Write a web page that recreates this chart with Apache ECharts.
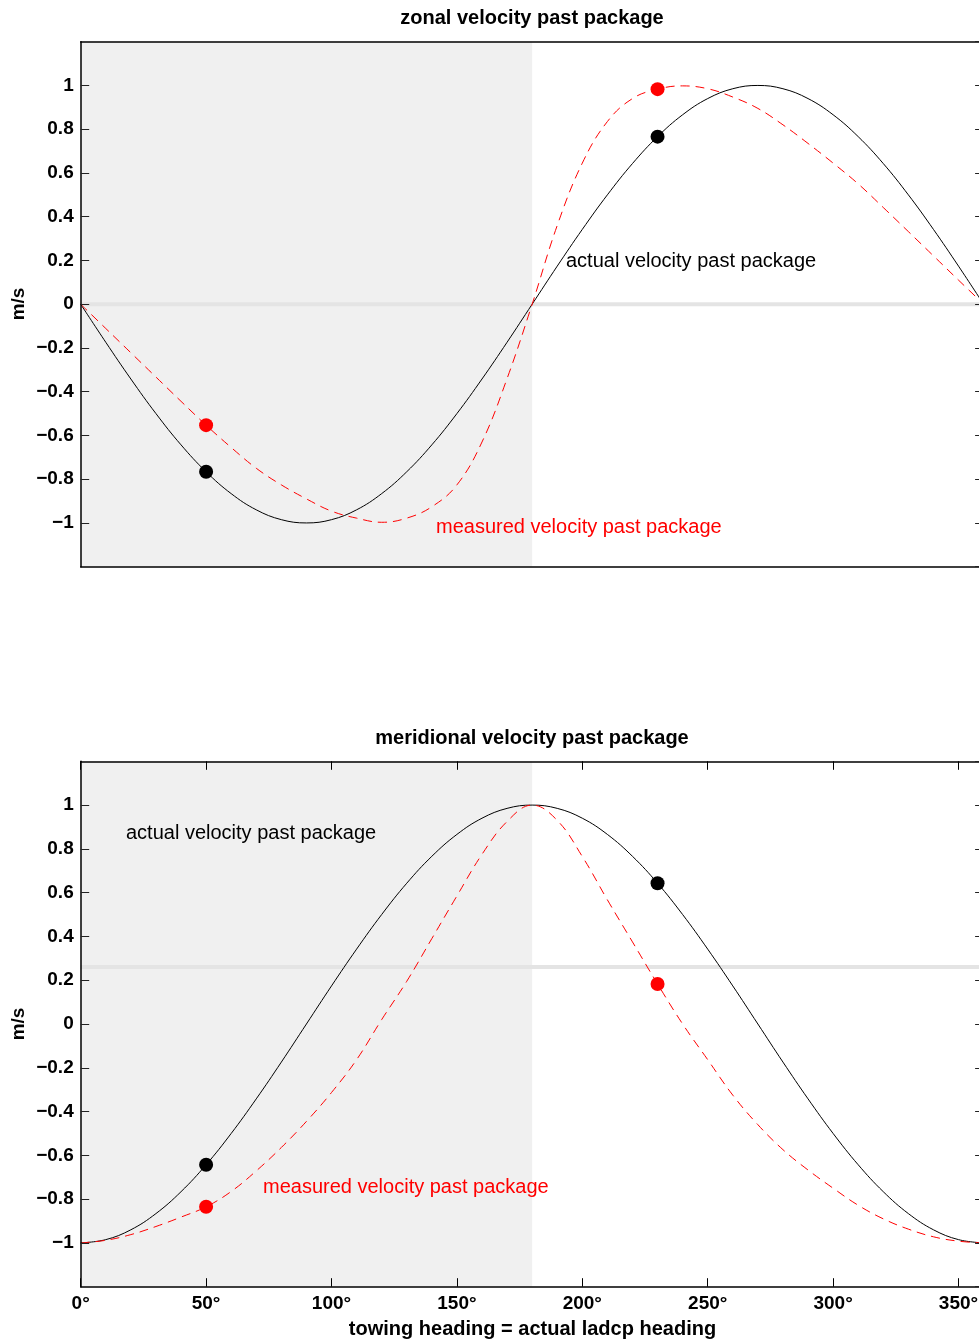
<!DOCTYPE html>
<html>
<head>
<meta charset="utf-8">
<script src="https://cdn.jsdelivr.net/npm/echarts@6/dist/echarts.min.js"></script>
<style>
html,body{margin:0;padding:0;background:#fff;overflow:hidden;width:979px;height:1343px;}
#chart{width:990px;height:1343px;}
</style>
</head>
<body>
<div id="chart"></div>
<script>
// ---- data ----
const headings = [0,10,20,30,40,50,60,70,80,90,100,110,120,130,140,150,160,170,180,
  190,200,210,220,230,240,250,260,270,280,290,300,310,320,330,340,350,360];

const zonalActual = [0,-0.174,-0.342,-0.5,-0.643,-0.766,-0.866,-0.940,-0.985,-1,-0.985,-0.940,-0.866,-0.766,-0.643,-0.5,-0.342,-0.174,0,
  0.174,0.342,0.5,0.643,0.766,0.866,0.940,0.985,1,0.985,0.940,0.866,0.766,0.643,0.5,0.342,0.174,0];
const zonalMeasured = [0,-0.111,-0.222,-0.333,-0.444,-0.553,-0.655,-0.75,-0.826,-0.89,-0.946,-0.978,-0.997,-0.978,-0.926,-0.826,-0.63,-0.34,0,
  0.36,0.645,0.835,0.94,0.983,0.998,0.985,0.947,0.895,0.82,0.735,0.645,0.55,0.442,0.332,0.221,0.11,0];

const meridActual = [-1,-0.985,-0.940,-0.866,-0.766,-0.643,-0.5,-0.342,-0.174,0,0.174,0.342,0.5,0.643,0.766,0.866,0.940,0.985,1,
  0.985,0.940,0.866,0.766,0.643,0.5,0.342,0.174,0,-0.174,-0.342,-0.5,-0.643,-0.766,-0.866,-0.940,-0.985,-1];
const meridMeasured = [-1,-0.988,-0.962,-0.925,-0.882,-0.835,-0.765,-0.671,-0.564,-0.445,-0.313,-0.163,0.02,0.195,0.39,0.585,0.775,0.925,1.0,
  0.93,0.765,0.567,0.375,0.183,0.0,-0.163,-0.325,-0.46,-0.574,-0.667,-0.75,-0.828,-0.89,-0.937,-0.972,-0.992,-1];

// highlighted headings and their values
const dotHeadings = [50, 230];
const zonalActualDots = [-0.766, 0.766];
const zonalMeasuredDots = [-0.553, 0.983];
const meridActualDots = [-0.643, 0.643];
const meridMeasuredDots = [-0.835, 0.183];

// shaded heading range and grey reference levels
const shadeRange = [0, 180];
const zonalRefLevel = 0;
const meridRefLevel = 0.26;

const titles = ['zonal velocity past package', 'meridional velocity past package'];
const xName = 'towing heading = actual ladcp heading';
const yName = 'm/s';
const actualLabel = 'actual velocity past package';
const measuredLabel = 'measured velocity past package';

// ---- chart ----
const FONT = '"Liberation Sans", Arial, Helvetica, sans-serif';
const chart = echarts.init(document.getElementById('chart'), null, {renderer: 'canvas'});

const pairs = (xs, ys) => xs.map((x, i) => [x, ys[i]]);
const yFmt = v => { const r = Math.round(v * 10) / 10; return (r === 0 ? '0' : String(r)).replace('-', '\u2212'); };

const grids = [
  {left: 80.7, top: 41.7, width: 902.9, height: 525},
  {left: 80.7, top: 761.3, width: 902.9, height: 525.4}
];

function xAxesFor(gi, showLabels) {
  const common = {
    type: 'value', gridIndex: gi, min: 0, max: 360, interval: 50,
    splitLine: {show: false}, z: 10,
    axisLine: {show: true, onZero: false, lineStyle: {color: '#000', width: 1.5}}
  };
  return [
    Object.assign({}, common, {
      position: 'bottom',
      axisTick: {show: showLabels, inside: true, length: 8.5, lineStyle: {color: '#000', width: 1}},
      axisLabel: {show: showLabels, formatter: v => v + '\u00b0', color: '#000', fontFamily: FONT,
        fontWeight: 'bold', fontSize: 19, margin: 8, showMaxLabel: false}
    }),
    Object.assign({}, common, {
      position: 'top',
      axisTick: {show: showLabels, inside: true, length: 8.5, lineStyle: {color: '#000', width: 1}},
      axisLabel: {show: false}
    })
  ];
}
function yAxesFor(gi) {
  const common = {
    type: 'value', gridIndex: gi, min: -1.2, max: 1.2, interval: 0.2,
    splitLine: {show: false}, z: 10,
    axisLine: {show: true, onZero: false, lineStyle: {color: '#000', width: 1.5}},
    axisTick: {show: true, inside: true, length: 8.5, lineStyle: {color: '#222', width: 1}}
  };
  return [
    Object.assign({}, common, {
      position: 'left',
      axisLabel: {show: true, formatter: yFmt, color: '#000', fontFamily: FONT, fontWeight: 'bold',
        fontSize: 19, margin: 7, showMinLabel: false, showMaxLabel: false}
    }),
    Object.assign({}, common, {position: 'right', axisLabel: {show: false}})
  ];
}

const xAxis = [].concat(xAxesFor(0, false), xAxesFor(1, true));
const yAxis = [].concat(yAxesFor(0), yAxesFor(1));

function panelSeries(gi, actual, measured, aDots, mDots, refLevel) {
  const xi = gi * 2, yi = gi * 2;
  return [
    {
      type: 'line', xAxisIndex: xi, yAxisIndex: yi, z: 1, silent: true,
      data: [[0, refLevel], [360, refLevel]], symbol: 'none',
      lineStyle: {color: '#e4e4e4', width: 4},
      markArea: {silent: true, itemStyle: {color: '#f0f0f0'},
        data: [[{xAxis: shadeRange[0]}, {xAxis: shadeRange[1]}]]}
    },
    {
      type: 'line', xAxisIndex: xi, yAxisIndex: yi, z: 3, silent: true,
      data: pairs(headings, actual), symbol: 'none', smooth: 0.4,
      lineStyle: {color: '#000', width: 1}
    },
    {
      type: 'line', xAxisIndex: xi, yAxisIndex: yi, z: 4, silent: true,
      data: pairs(headings, measured), symbol: 'none', smooth: 0.4,
      lineStyle: {color: '#ff0000', width: 1, type: [9, 6]}
    },
    {
      type: 'scatter', xAxisIndex: xi, yAxisIndex: yi, z: 5, silent: true,
      data: pairs(dotHeadings, aDots), symbolSize: 14, itemStyle: {color: '#000', opacity: 1}
    },
    {
      type: 'scatter', xAxisIndex: xi, yAxisIndex: yi, z: 5, silent: true,
      data: pairs(dotHeadings, mDots), symbolSize: 14, itemStyle: {color: '#ff0000', opacity: 1}
    }
  ];
}

const series = [].concat(
  panelSeries(0, zonalActual, zonalMeasured, zonalActualDots, zonalMeasuredDots, zonalRefLevel),
  panelSeries(1, meridActual, meridMeasured, meridActualDots, meridMeasuredDots, meridRefLevel)
);

function txt(x, y, text, opts) {
  return {
    type: 'text', x: x, y: y, z: 100,
    style: Object.assign({text: text, fill: '#000', font: 'normal 20px ' + FONT,
      textAlign: 'left', textVerticalAlign: 'middle'}, opts || {})
  };
}

const graphic = [
  txt(532, 18, titles[0], {font: 'bold 20px ' + FONT, textAlign: 'center'}),
  txt(532, 738, titles[1], {font: 'bold 20px ' + FONT, textAlign: 'center'}),
  txt(532.5, 1329, xName, {font: 'bold 20px ' + FONT, textAlign: 'center'}),
  Object.assign(txt(19, 304, yName, {font: 'bold 19px ' + FONT, textAlign: 'center'}), {rotation: Math.PI / 2}),
  Object.assign(txt(19, 1024, yName, {font: 'bold 19px ' + FONT, textAlign: 'center'}), {rotation: Math.PI / 2}),
  txt(566, 261, actualLabel),
  txt(436, 527, measuredLabel, {fill: '#ff0000'}),
  txt(126, 833, actualLabel),
  txt(263, 1187, measuredLabel, {fill: '#ff0000'})
];

chart.setOption({
  animation: false,
  backgroundColor: '#fff',
  grid: grids,
  xAxis: xAxis,
  yAxis: yAxis,
  series: series,
  graphic: graphic
});
</script>
</body>
</html>
